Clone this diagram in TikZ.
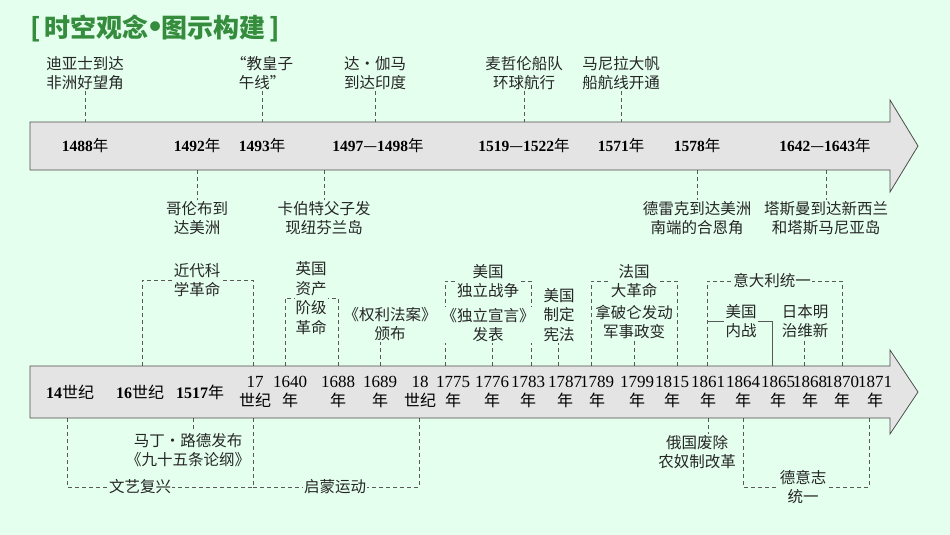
\documentclass[tikz,border=0pt]{standalone}
\usepackage{fontspec}
\setmainfont{Noto Sans CJK SC}
\newfontfamily\serifnum{Liberation Serif}
\newcommand{\Yb}[1]{{\serifnum\bfseries #1}}
\newcommand{\Yn}[1]{{\serifnum #1}}
\definecolor{bg}{RGB}{228,255,238}
\definecolor{arrfill}{RGB}{228,228,228}
\definecolor{titlec}{RGB}{52,140,60}
\begin{document}
\begin{tikzpicture}[x=1pt,y=-1pt,
  lbl/.style={font=\fontsize{15.5}{19.5}\selectfont, align=center, inner sep=1pt, fill=bg, text=black!85},
  yr/.style={font=\fontsize{15.5}{17}\selectfont, inner sep=0pt},
  yr2/.style={font=\fontsize{16}{19}\selectfont, align=center, inner sep=0pt},
  tk/.style={draw=black!65, dash pattern=on 4pt off 3pt, line width=0.5pt},
  arr/.style={draw=black!70, fill=arrfill, line width=0.8pt}]
\fill[bg] (0,0) rectangle (950,535);
\useasboundingbox (0,0) rectangle (950,535);
\node[anchor=west, text=titlec, font=\fontsize{26}{28}\bfseries\selectfont, inner sep=0pt] (title) at (30,28) {[\,时空观念{\serifnum\fontsize{36}{36}\selectfont\raisebox{-1pt}{\symbol{"2022}}}图示构建\,]};
% arrows
\draw[arr] (30,122) -- (890,122) -- (890,100) -- (918,146) -- (890,192) -- (890,170) -- (30,170) -- cycle;
\draw[arr] (30,366) -- (890,366) -- (890,350) -- (918,392) -- (890,434) -- (890,418) -- (30,418) -- cycle;
% upper years
\node[yr] (u1) at (85,146) {\Yb{1488}年};
\node[yr] (u2) at (197,146) {\Yb{1492}年};
\node[yr] (u3) at (262,146) {\Yb{1493}年};
\node[yr] (u4) at (378,146) {\Yb{1497}—\Yb{1498}年};
\node[yr] (u5) at (524,146) {\Yb{1519}—\Yb{1522}年};
\node[yr] (u6) at (621,146) {\Yb{1571}年};
\node[yr] (u7) at (697,146) {\Yb{1578}年};
\node[yr] (u8) at (825,146) {\Yb{1642}—\Yb{1643}年};
% upper labels
\node[lbl] (a1) at (85,73) {迪亚士到达\\非洲好望角};
\node[lbl] (a3) at (262,73) {“教皇子\\午线”};
\node[lbl] (a4) at (375,73) {达·伽马\\到达印度};
\node[lbl] (a5) at (524,73) {麦哲伦船队\\环球航行};
\node[lbl] (a6) at (621,73) {马尼拉大帆\\船航线开通};
\node[lbl] (b2) at (197,218) {哥伦布到\\达美洲};
\node[lbl] (b4) at (324,218) {卡伯特父子发\\现纽芬兰岛};
\node[lbl] (b7) at (697,218) {德雷克到达美洲\\南端的合恩角};
\node[lbl] (b8) at (826,218) {塔斯曼到达新西兰\\和塔斯马尼亚岛};
\foreach \n/\x in {a1/85,a3/262,a4/375,a5/524,a6/621}{
  \coordinate (t\n) at (\x,122);
  \draw[tk] (\n.south) -- (t\n);}
\foreach \n/\x in {b2/197,b4/324,b7/697,b8/826}{
  \coordinate (t\n) at (\x,170);
  \draw[tk] (t\n) -- (\n.north);}
% lower years
\node[yr2] (l1) at (70,392) {\Yb{14}世纪};
\node[yr2] (l2) at (140,392) {\Yb{16}世纪};
\node[yr2] (l3) at (200,392) {\Yb{1517}年};
\foreach \n/\x/\d/\u in {l4/255/17/世纪, l5/290/1640/年, l6/338/1688/年, l7/380/1689/年, l8/420/18/世纪, l9/453/1775/年, l10/492/1776/年, l11/528/1783/年, l12/565/1787/年, l13/597/1789/年, l14/637/1799/年, l15/672/1815/年, l16/708/1861/年, l17/743/1864/年, l18/778/1865/年, l19/810/1868/年, l20/842/1870/年, l21/875/1871/年}
  \node[yr2] (\n) at (\x,392) {\Yn{\fontsize{17}{19}\selectfont\d}\\\u};
% upper brackets / labels
\node[lbl] (sci) at (197,280) {近代科\\学革命};
\draw[tk] (142,366) |- (sci.west);
\draw[tk] (253,366) |- (sci.east);
\node[lbl] (eng) at (311,298) {英国\\资产\\阶级\\革命};
\draw[tk] (285,366) |- (eng.west);
\draw[tk] (338,366) |- (eng.east);
\node[lbl] (bor) at (390,324) {《权利法案》\\颁布};
\coordinate (tbor) at (380,366);
\draw[tk] (tbor) -- (tbor |- bor.south);
\node[lbl] (usw) at (488,281) {美国\\独立战争};
\draw[tk] (445,366) |- (usw.west);
\draw[tk] (531,366) |- (usw.east);
\node[lbl] (dec) at (488,325) {《独立宣言》\\发表};
\coordinate (tdec) at (492,366);
\draw[tk] (tdec) -- (tdec |- dec.south);
\node[lbl] (con) at (559,315) {美国\\制定\\宪法};
\coordinate (tcon) at (558,366);
\draw[tk] (tcon) -- (tcon |- con.south);
\node[lbl] (fr) at (634,281) {法国\\大革命};
\draw[tk] (591,366) |- (fr.west);
\draw[tk] (677,366) |- (fr.east);
\node[lbl] (nap) at (634,322) {拿破仑发动\\军事政变};
\coordinate (tnap) at (634,366);
\draw[tk] (tnap) -- (nap.south);
\node[lbl] (ita) at (772,281) {意大利统一};
\draw[tk] (707,366) |- (ita.west);
\draw[tk] (842,366) |- (ita.east);
\node[lbl] (civ) at (741,321) {美国\\内战};
\draw[black!65, line width=0.5pt] (707,321) -- (civ.west);
\draw[black!65, line width=0.5pt] (civ.east) -| (772,366);
\node[lbl] (mei) at (805,321) {日本明\\治维新};
\coordinate (tmei) at (804,366);
\draw[tk] (tmei) -- (tmei |- mei.south);
% lower brackets / labels
\node[lbl] (ren) at (140,487) {文艺复兴};
\draw[tk] (67,418) |- (ren.west);
\draw[tk] (253,418) |- (ren.east);
\node[lbl] (enl) at (335,487) {启蒙运动};
\draw[tk] (253,487) -- (enl.west);
\draw[tk] (419,418) |- (enl.east);
\node[lbl] (lut) at (188,450) {马丁·路德发布\\《九十五条论纲》};
\coordinate (tlut) at (193,418);
\draw[tk] (tlut) -- (tlut |- lut.north);
\node[lbl] (rus) at (697,452) {俄国废除\\农奴制改革};
\coordinate (trus) at (708,418);
\draw[tk] (trus) -- (trus |- rus.north);
\node[lbl] (ger) at (803,487) {德意志\\统一};
\draw[tk] (743,418) |- (ger.west);
\draw[tk] (869,418) |- (ger.east);
\end{tikzpicture}
\end{document}
